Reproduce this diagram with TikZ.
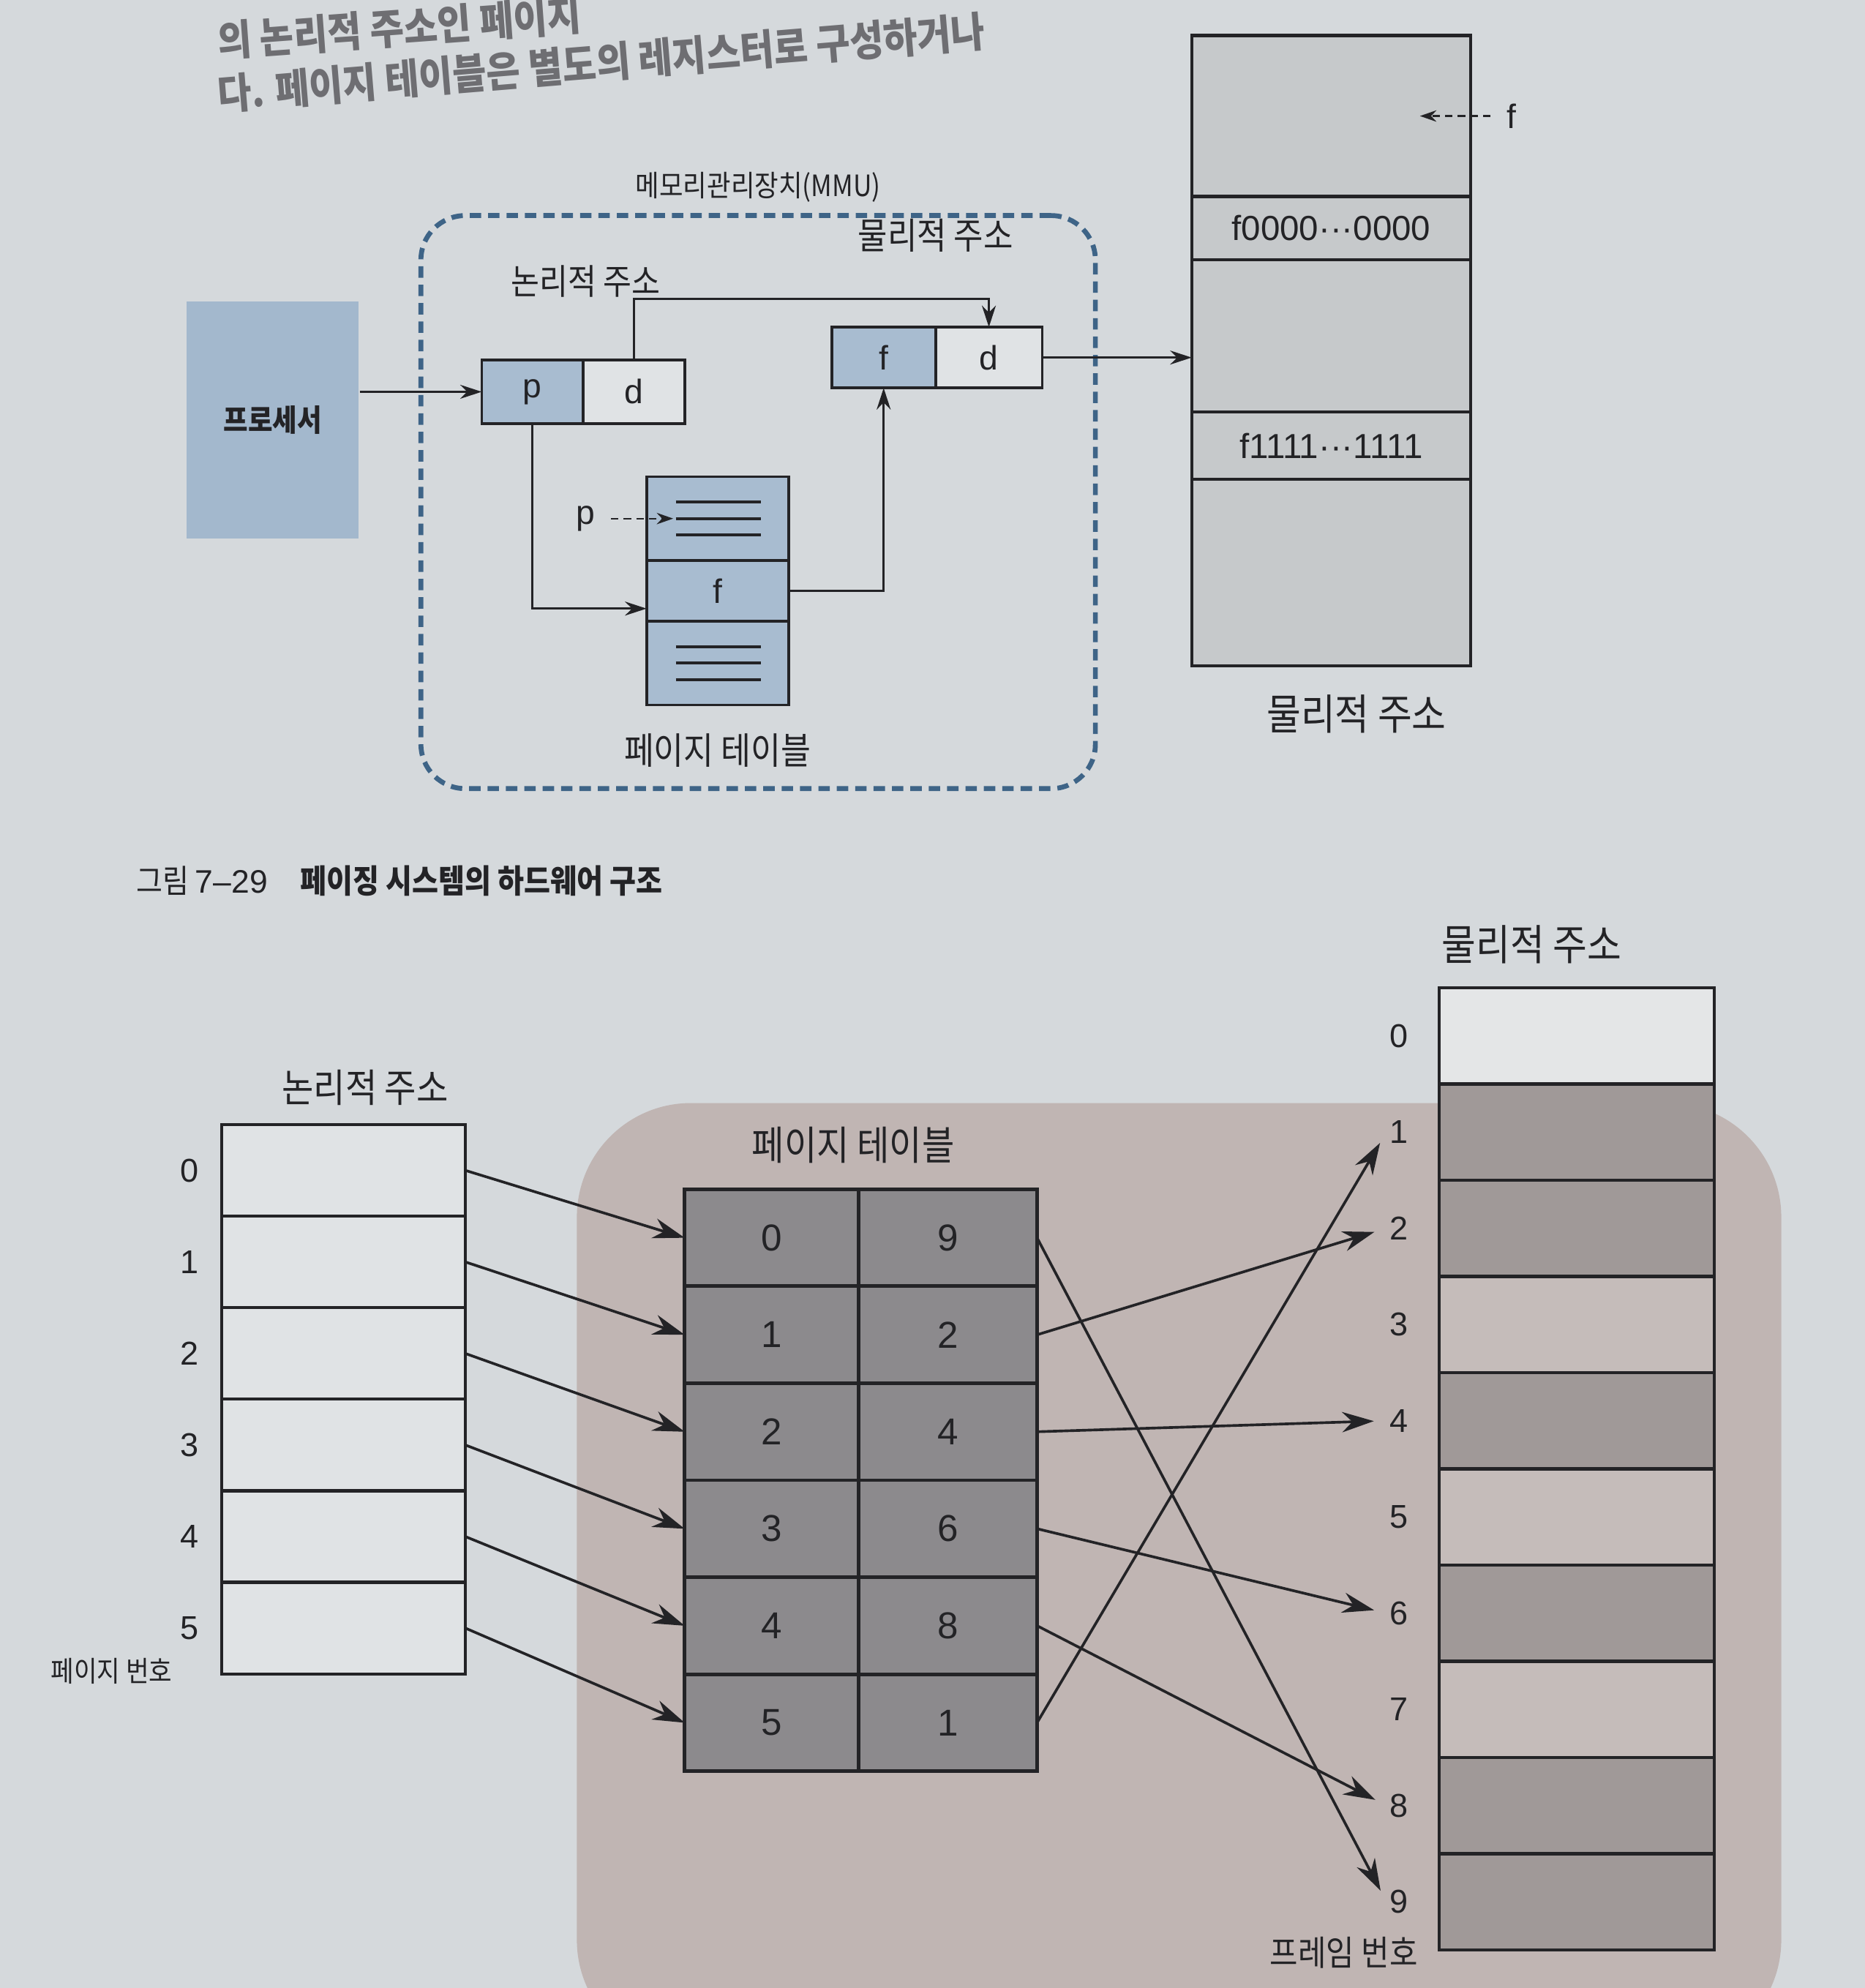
\documentclass[tikz,border=0pt]{standalone}
\usepackage{fontspec}
\setmainfont{Noto Sans CJK KR}[FakeStretch=0.88]
\newfontfamily\lsans{Liberation Sans}
\usetikzlibrary{positioning, arrows.meta, calc}

\definecolor{pagebg}{RGB}{213,217,220}
\definecolor{shadowc}{RGB}{192,181,179}
\definecolor{procblue}{RGB}{163,184,205}
\definecolor{cellblue}{RGB}{168,188,208}
\definecolor{memgray}{RGB}{198,201,203}
\definecolor{lfill}{RGB}{224,227,229}
\definecolor{ptgray}{RGB}{140,138,141}
\definecolor{usedc}{RGB}{160,153,152}
\definecolor{freec}{RGB}{197,188,186}
\definecolor{topfree}{RGB}{228,230,231}
\definecolor{linec}{RGB}{35,35,38}
\definecolor{mmublue}{RGB}{62,100,135}
\definecolor{bodygray}{RGB}{110,110,114}

\begin{document}
\begin{tikzpicture}[
        x=0.1mm, y=-0.1mm,
        font=\fontsize{8}{8}\selectfont,
        lab/.style={text=linec, inner sep=0.5pt, font=\fontsize{#1}{#1}\selectfont},
        lab/.default=8,
        latinlab/.style={text=linec, inner sep=0.5pt, font=\fontsize{#1}{#1}\selectfont\lsans},
        latinlab/.default=7.6,
        bodytext/.style={text=bodygray, inner sep=0pt, font=\fontsize{9.4}{9.4}\selectfont\bfseries},
        cell/.style={draw=linec, line width=0.6pt, fill=#1, minimum width=8mm, minimum height=5mm, inner sep=0pt, outer sep=0pt, text=linec, font=\fontsize{7.6}{7.6}\selectfont\lsans},
        cell/.default=lfill,
        procbox/.style={fill=procblue, minimum width=13.6mm, minimum height=18.7mm, text=linec, font=\fontsize{6.8}{6.8}\selectfont\bfseries},
        ptcell/.style={cell=cellblue, minimum width=11.2mm},
        memcell/.style={cell=memgray, minimum width=22mm, line width=0.7pt, font=\fontsize{7.8}{7.8}\selectfont\lsans},
        mmubox/.style={draw=mmublue, line width=1.1pt, dash pattern=on 0.9mm off 0.55mm, rounded corners=3.5mm},
        lcell/.style={cell=lfill, minimum width=19.2mm, minimum height=7.22mm, line width=0.7pt},
        pgcell/.style={cell=ptgray, minimum height=7.65mm, line width=0.8pt, font=\fontsize{8.4}{8.4}\selectfont\lsans},
        fcell/.style={draw=linec, line width=0.7pt, minimum width=21.7mm, minimum height=7.59mm, inner sep=0pt, outer sep=0pt},
        numlab/.style={latinlab=7.4},
        arr/.style={-{Stealth[length=1.7mm, width=1.1mm]}, line width=0.5pt, draw=linec},
        darr/.style={-{Stealth[length=1.3mm, width=0.9mm]}, line width=0.4pt, draw=linec, dash pattern=on 0.6mm off 0.4mm, shorten <=1mm},
        barr/.style={-{Stealth[length=2.5mm, width=1.6mm]}, line width=0.6pt, draw=linec},
    ]
    % Page
    \fill[pagebg] (0,0) rectangle (1471,1568);
    \useasboundingbox (0,0) rectangle (1471,1568);
    \fill[shadowc, rounded corners=9mm] (455,870) rectangle (1405,1620);

    % Body text
    \node[bodytext, rotate=4.2, anchor=base west] (line1) at (172,45) {의 논리적 주소인 페이지};
    \node[bodytext, rotate=4.75, anchor=base west] (line2) at (172,87) {다. 페이지 테이블은 별도의 레지스터로 구성하거나};

    % MMU
    \node[mmubox, minimum width=53.2mm, minimum height=45.2mm] (mmu) at (598,396) {};
    \node[lab=6.6, above=0.6mm of mmu.north] (mmulab) {메모리관리장치(MMU)};

    % Processor
    \node[procbox] (proc) at (215,331) {프로세서};

    % Logical address
    \node[cell=cellblue] (lp) at (420,309) {p};
    \node[cell, right=0pt of lp] (ld) {d};
    \node[lab=7.9] (lalab) at (462,222) {논리적 주소};

    % Physical address
    \node[cell=cellblue, minimum width=8.2mm, minimum height=4.8mm] (pf) at (697,282) {f};
    \node[cell, minimum width=8.4mm, minimum height=4.8mm, right=0pt of pf] (pd) {d};
    \node[lab=8.2] (palab) at (738,186) {물리적 주소};

    % Page table
    \node[ptcell, minimum height=6.6mm] (tp) at (566,409) {};
    \node[ptcell, minimum height=4.8mm, below=0pt of tp] (tf) {f};
    \node[ptcell, minimum height=6.6mm, below=0pt of tf] (tb) {};
    \foreach \dy in {1.3,0,-1.3} {
        \draw[linec, line width=0.6pt] ([xshift=-3.3mm, yshift=\dy mm]tp.center) -- ++(6.7mm,0);
        \draw[linec, line width=0.6pt] ([xshift=-3.3mm, yshift=\dy mm]tb.center) -- ++(6.7mm,0);
    }
    \node[lab=8.3, below=2mm of tb] (ptlab) {페이지 테이블};
    \node[latinlab] (pidx) at (462,409) {p};
    \coordinate (ptip) at ([xshift=-3.5mm]tp.center);

    % Memory
    \node[memcell, minimum height=12.7mm] (m1) at (1050,91.5) {};
    \node[memcell, minimum height=5mm, below=0pt of m1] (m2) {f0000···0000};
    \node[memcell, minimum height=12mm, below=0pt of m2] (m3) {};
    \node[memcell, minimum height=5.3mm, below=0pt of m3] (m4) {f1111···1111};
    \node[memcell, minimum height=14.7mm, below=0pt of m4] (m5) {};
    \node[lab=9.5] (memlab) at (1070,563) {물리적 주소};
    \node[latinlab] (fidx) at (1192,91.5) {f};
    \coordinate (ftip) at ([xshift=-4mm]m1.east);

    % Arrows
    \draw[arr] (proc.east |- lp.west) -- (lp.west);
    \draw[arr] (ld.north) -- ++(0,4.8mm) -| (pd.north);
    \draw[arr] (lp.south) |- ([yshift=1mm]tf.south west);
    \draw[arr] (tf.east) -| (pf.south);
    \draw[arr] (pd.east) -- (pd.east -| m3.west);
    \draw[darr] (pidx.east) -- (pidx.east -| ptip);
    \draw[darr] (fidx.west) -- (ftip);

    % Caption
    \node[lab=7.3, anchor=west] (cap) at (105,695) {그림 {\lsans 7–29}\quad\textbf{페이징 시스템의 하드웨어 구조}};

    % Logical memory
    \foreach \i in {0,...,5} {
        \node[lcell] (lr\i) at (271, {923.1+72.2*\i}) {};
        \node[numlab, left=1.6mm of lr\i] (ln\i) {\i};
    }
    \node[lab=8.8] (lmlab) at (288,858) {논리적 주소};
    \node[lab=6.4] (pnlab) at (88,1318) {페이지 번호};

    % Page table
    \foreach \fr [count=\i from 0] in {9,2,4,6,8,1} {
        \node[pgcell, minimum width=13.7mm] (pg\i) at (608.5, {976.25+76.5*\i}) {\i};
        \node[pgcell, minimum width=14.1mm, right=0pt of pg\i] (fr\i) {\fr};
    }
    \node[lab=9] (pgtlab) at (673,903) {페이지 테이블};

    % Physical memory
    \foreach \j/\c in {0/topfree,1/usedc,2/usedc,3/freec,4/usedc,5/freec,6/usedc,7/freec,8/usedc,9/usedc} {
        \node[fcell, fill=\c] (ph\j) at (1243.5, {816.95+75.9*\j}) {};
        \node[numlab, left=2.2mm of ph\j] (fn\j) {\j};
    }
    \node[lab=9.5] (pmlab) at (1208,745) {물리적 주소};
    \node[lab=7.8] (frlab) at (1060,1540) {프레임 번호};

    % Mapping arrows
    \foreach \i in {0,...,5}
        \draw[barr] (lr\i.east) -- (pg\i.west);
    \foreach \fr [count=\i from 0] in {9,2,4,6,8,1}
        \draw[barr, shorten >=1mm] (fr\i.east) -- (fn\fr.west);
\end{tikzpicture}
\end{document}
